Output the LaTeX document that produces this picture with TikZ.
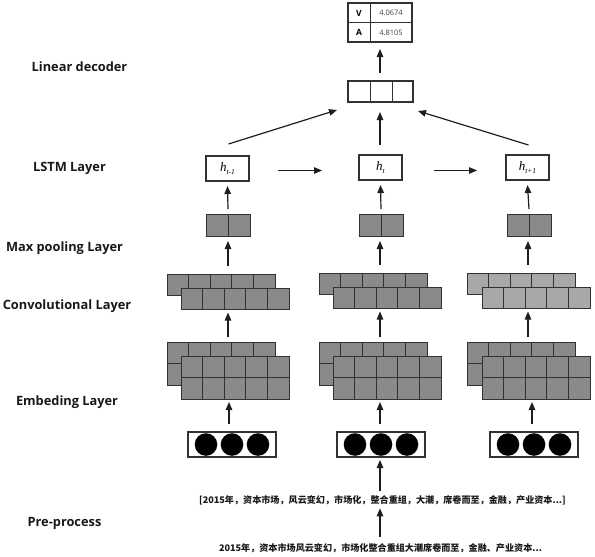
\documentclass[tikz,border=0pt]{standalone}
\usepackage{fontspec}
\setmainfont{Open Sans}
\newfontfamily\labfont{Open Sans}
\newfontfamily\cjkfont{Noto Sans CJK SC}
\newfontfamily\tmsfont{Liberation Serif}
\usetikzlibrary{arrows.meta,calc}
\definecolor{gfill}{RGB}{138,138,138}
\definecolor{glight}{RGB}{168,168,168}
\definecolor{bord}{RGB}{50,50,50}
\definecolor{ink}{RGB}{30,30,30}
\definecolor{labc}{RGB}{25,25,25}
\tikzset{
  cellbox/.style={draw=bord, line width=1pt, inner sep=0pt, outer sep=0pt, anchor=north west, minimum width=108pt},
  cellline/.style={draw=bord, line width=1pt},
  wbox/.style={draw=bord, line width=1.1pt, fill=white, inner sep=0pt, outer sep=0pt, anchor=north west},
  arr/.style={-{Triangle[length=8pt,width=6.5pt]}, line width=1.2pt, draw=ink},
  lab/.style={font=\labfont\bfseries\fontsize{12.8}{15}\selectfont, text=labc, anchor=center},
  cjk/.style={font=\cjkfont\bfseries\fontsize{9.1}{11}\selectfont, text=labc, anchor=center},
  hlab/.style={font=\tmsfont\itshape\fontsize{13}{15}\selectfont},
}
\newcommand\mkblock[5]{%
  \node[cellbox, fill=#5, minimum height=#4*21.5pt] (#1) at (#2,#3) {};
  \foreach \i in {1,2,3,4} \draw[cellline] ($(#1.north west)+(\i*21.6,0)$) -- ++(0,#4*21.5);
  \ifnum#4>1 \draw[cellline] (#1.west) -- (#1.east); \fi
}
\newcommand\mkpool[3]{%
  \node[cellbox, fill=gfill, minimum width=44pt, minimum height=22pt] (#1) at (#2,#3) {};
  \draw[cellline] (#1.north) -- (#1.south);
}
\newcommand\mkcirc[3]{%
  \node[wbox, minimum width=88pt, minimum height=25pt] (#1) at (#2,#3) {};
  \foreach \o in {18,44,70} \fill[black] ($(#1.west)+(\o,0)$) circle (11.3pt);
}
\begin{document}
\begin{tikzpicture}[x=1pt,y=-1pt]
\path[use as bounding box, fill=white] (0,0) rectangle (595,557);

% layer labels
\node[lab] (lLin) at (79.5,67) {Linear decoder};
\node[lab] (lLstm) at (69.5,168) {LSTM Layer};
\node[lab] (lMax) at (64.5,248) {Max pooling Layer};
\node[lab] (lConv) at (67,306) {Convolutional Layer};
\node[lab] (lEmb) at (67,402) {Embeding Layer};
\node[lab] (lPre) at (64.5,523) {Pre-process};

% output table
\node[wbox, minimum width=64pt, minimum height=39pt] (tab) at (348,3) {};
\draw[cellline] (tab.west) -- (tab.east);
\draw[cellline] ($(tab.north west)+(22,0)$) -- ($(tab.south west)+(22,0)$);
\node[font=\labfont\bfseries\fontsize{8.5}{9}\selectfont] (vl) at (359,13) {V};
\node[font=\labfont\fontsize{7.5}{8}\selectfont, text=black!75] (vv) at (391,13) {4.0674};
\node[font=\labfont\bfseries\fontsize{8.5}{9}\selectfont] (al) at (359,32.5) {A};
\node[font=\labfont\fontsize{7.5}{8}\selectfont, text=black!75] (av) at (391,32.5) {4.8105};

% decoder
\node[wbox, minimum width=65pt, minimum height=21pt] (dec) at (348,81) {};
\draw[cellline] ($(dec.north west)+(22,0)$) -- ++(0,21);
\draw[cellline] ($(dec.north west)+(44,0)$) -- ++(0,21);

% LSTM
\node[wbox, minimum width=43pt, minimum height=25pt] (hL) at (206,156) {};
\node[wbox, minimum width=43pt, minimum height=25pt] (hM) at (359,155) {};
\node[wbox, minimum width=43pt, minimum height=25pt] (hR) at (506,155) {};
\node[hlab] (hLt) at (hL.center) {h\raisebox{-3.5pt}{\fontsize{7.5}{8}\selectfont t-1}};
\node[hlab] (hMt) at (hM.center) {h\raisebox{-3.5pt}{\fontsize{7.5}{8}\selectfont t}};
\node[hlab] (hRt) at (hR.center) {h\raisebox{-3.5pt}{\fontsize{7.5}{8}\selectfont t+1}};

% max pooling
\mkpool{pL}{206}{214}
\mkpool{pM}{359}{214}
\mkpool{pR}{507}{214}

% convolution
\mkblock{cLb}{167}{274}{1}{gfill}
\mkblock{cLf}{181}{288}{1}{gfill}
\mkblock{cMb}{319}{273}{1}{gfill}
\mkblock{cMf}{333}{287}{1}{gfill}
\mkblock{cRb}{467}{273}{1}{glight}
\mkblock{cRf}{482}{287}{1}{glight}

% embedding
\mkblock{eLb}{167}{342}{2}{gfill}
\mkblock{eLf}{181}{356}{2}{gfill}
\mkblock{eMb}{319}{342}{2}{gfill}
\mkblock{eMf}{333}{356}{2}{gfill}
\mkblock{eRb}{467}{342}{2}{gfill}
\mkblock{eRf}{482}{356}{2}{gfill}

% one-hot circles
\mkcirc{oL}{188}{432}
\mkcirc{oM}{337}{432}
\mkcirc{oR}{490}{432}

% texts
\node[cjk] (t1) at (382.5,500) {[2015年，资本市场，风云变幻，市场化，整合重组，大潮，席卷而至，金融，产业资本...]};
\node[cjk] (t2) at (380.5,548) {2015年，资本市场风云变幻，市场化整合重组大潮席卷而至，金融、产业资本...};

% arrows
\coordinate (xL) at (228,0);
\coordinate (xM) at (380,0);
\coordinate (xR) at (528,0);
\draw[arr] ($(t2.north -| xM)+(0,-3)$) -- ($(t1.south -| xM)+(0,0)$);
\draw[arr] ($(t1.north -| xM)+(0,-1)$) -- ($(oM.south -| xM)+(0,3)$);
\draw[arr] ($(oL.north -| xL)+(1,-8)$) -- ($(eLf.south -| xL)+(1,3)$);
\draw[arr] ($(oM.north -| xM)+(0,-8)$) -- ($(eMf.south -| xM)+(0,3)$);
\draw[arr] ($(oR.north -| xR)+(4,-8)$) -- ($(eRf.south -| xR)+(4,3)$);
\draw[arr] ($(eLb.north -| xL)+(0,-5)$) -- ($(cLf.south -| xL)+(0,3)$);
\draw[arr] ($(eMb.north -| xM)+(0,-5)$) -- ($(cMf.south -| xM)+(0,3)$);
\draw[arr] ($(eRb.north -| xR)+(0,-5)$) -- ($(cRf.south -| xR)+(0,3)$);
\draw[arr] ($(cLb.north -| xL)+(0,-8)$) -- ($(pL.south -| xL)+(0,5)$);
\draw[arr] ($(cMb.north -| xM)+(0,-8)$) -- ($(pM.south -| xM)+(0,5)$);
\draw[arr] ($(cRb.north -| xR)+(0,-8)$) -- ($(pR.south -| xR)+(0,5)$);
\draw[arr] ($(pL.north)+(0,-5)$) -- ($(hL.south)+(0,5)$);
\draw[arr] ($(pM.north)+(0,-5)$) -- ($(hM.south)+(0,5)$);
\draw[arr] ($(pR.north)+(0,-5)$) -- ($(hR.south)+(0,5)$);
\draw[arr] ($(hL.east)+(29,2)$) -- ($(hM.west)+(-37,3)$);
\draw[arr] ($(hM.east)+(32,3)$) -- ($(hR.west)+(-29,3)$);
\draw[arr] ($(hM.north -| xM)+(0,-10)$) -- ($(dec.south -| xM)+(0,10)$);
\draw[arr] ($(hL.north)+(1,-12)$) -- ($(dec.south west)+(-11,8)$);
\draw[arr] ($(hR.north)+(1,-10)$) -- ($(dec.south east)+(5,9)$);
\draw[arr] ($(dec.north -| xM)+(0,-8)$) -- ($(tab.south -| xM)+(0,7)$);
\end{tikzpicture}
\end{document}
